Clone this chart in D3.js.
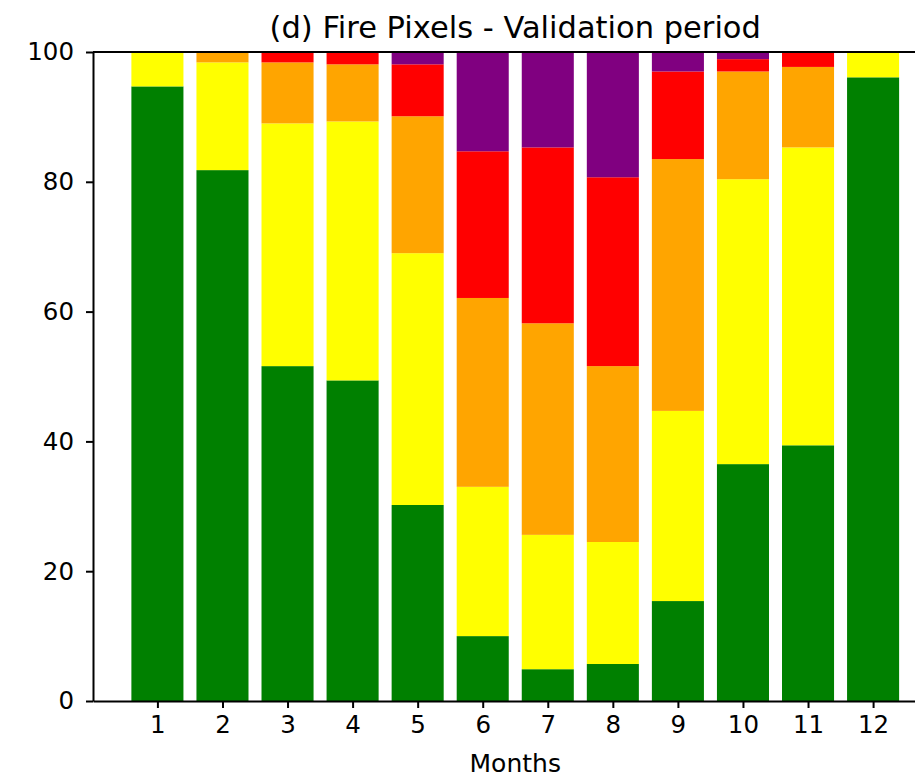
<!DOCTYPE html>
<html>
<head>
<meta charset="utf-8">
<script src="https://cdn.jsdelivr.net/npm/d3@7"></script>
<style>
  html, body { margin: 0; padding: 0; background: #fff; }
  svg { display: block; font-family: "DejaVu Sans", sans-serif; }
</style>
</head>
<body>
<div id="chart"></div>
<script>
// Stacked monthly shares (%) of fire pixels per class, bottom to top
const MONTHS  = [1, 2, 3, 4, 5, 6, 7, 8, 9, 10, 11, 12];
const GREEN   = [94.7, 81.8, 51.6, 49.4, 30.2, 10.0,  4.9,  5.7, 15.4, 36.5, 39.4, 96.1];
const YELLOW  = [ 5.3, 16.6, 37.4, 39.9, 38.8, 23.0, 20.7, 18.8, 29.3, 43.9, 45.9,  3.9];
const ORANGE  = [ 0.0,  1.6,  9.4,  8.8, 21.1, 29.1, 32.6, 27.1, 38.8, 16.6, 12.4,  0.0];
const RED     = [ 0.0,  0.0,  1.6,  1.9,  8.0, 22.6, 27.1, 29.1, 13.5,  1.9,  2.3,  0.0];
const PURPLE  = [ 0.0,  0.0,  0.0,  0.0,  1.9, 15.3, 14.7, 19.3,  3.0,  1.1,  0.0,  0.0];
const Y_TICKS = [0, 20, 40, 60, 80, 100];

const SERIES = [
  { key: "green",  values: GREEN,  color: "#008000" },
  { key: "yellow", values: YELLOW, color: "#ffff00" },
  { key: "orange", values: ORANGE, color: "#ffa500" },
  { key: "red",    values: RED,    color: "#ff0000" },
  { key: "purple", values: PURPLE, color: "#800080" }
];

const W = 915, H = 779;
const margin = { top: 52, left: 93, bottom: 78 };   // right edge runs past the frame
const plotRight = 937.5;

const rows = MONTHS.map((m, i) => {
  const r = { month: m };
  SERIES.forEach(s => { r[s.key] = s.values[i]; });
  return r;
});
const stacked = d3.stack().keys(SERIES.map(s => s.key))(rows);

const x = d3.scaleLinear().domain([0.01, 12.99]).range([margin.left, plotRight]);
const y = d3.scaleLinear().domain([0, 100]).range([H - margin.bottom, margin.top]);
const barW = x(0.8) - x(0);

const svg = d3.select("#chart").append("svg")
  .attr("width", W).attr("height", H);

// Bars
stacked.forEach((layer, li) => {
  svg.append("g")
    .selectAll("rect")
    .data(layer)
    .join("rect")
      .attr("x", d => x(d.data.month) - barW / 2)
      .attr("width", barW)
      .attr("y", d => y(d[1]))
      .attr("height", d => Math.max(0, y(d[0]) - y(d[1])))
      .attr("fill", SERIES[li].color);
});

// X axis
const xAxis = svg.append("g")
  .attr("transform", `translate(0,${y(0)})`)
  .call(d3.axisBottom(x).tickValues(MONTHS).tickFormat(d3.format("d"))
          .tickSize(7).tickPadding(8).tickSizeOuter(0));
xAxis.select(".domain").attr("stroke", "#000").attr("stroke-width", 2);
xAxis.selectAll(".tick line").attr("stroke", "#000").attr("stroke-width", 2);
xAxis.selectAll("text").attr("font-size", 24.5).attr("fill", "#000")
  .attr("font-family", "DejaVu Sans");

// Y axis
const yAxis = svg.append("g")
  .attr("transform", `translate(${margin.left},0)`)
  .call(d3.axisLeft(y).tickValues(Y_TICKS).tickSize(7).tickPadding(12).tickSizeOuter(0));
yAxis.select(".domain").attr("stroke", "#000").attr("stroke-width", 2);
yAxis.selectAll(".tick line").attr("stroke", "#000").attr("stroke-width", 2);
yAxis.selectAll("text").attr("font-size", 24.5).attr("fill", "#000")
  .attr("font-family", "DejaVu Sans");

// Top spine
svg.append("line")
  .attr("x1", margin.left).attr("x2", plotRight)
  .attr("y1", y(100)).attr("y2", y(100))
  .attr("stroke", "#000").attr("stroke-width", 2);

// Title and axis label
const cx = (margin.left + plotRight) / 2;
svg.append("text")
  .attr("x", cx).attr("y", 38)
  .attr("text-anchor", "middle")
  .attr("font-size", 30.5)
  .text("(d) Fire Pixels - Validation period");

svg.append("text")
  .attr("x", cx).attr("y", 772)
  .attr("text-anchor", "middle")
  .attr("font-size", 25)
  .text("Months");
</script>
</body>
</html>
